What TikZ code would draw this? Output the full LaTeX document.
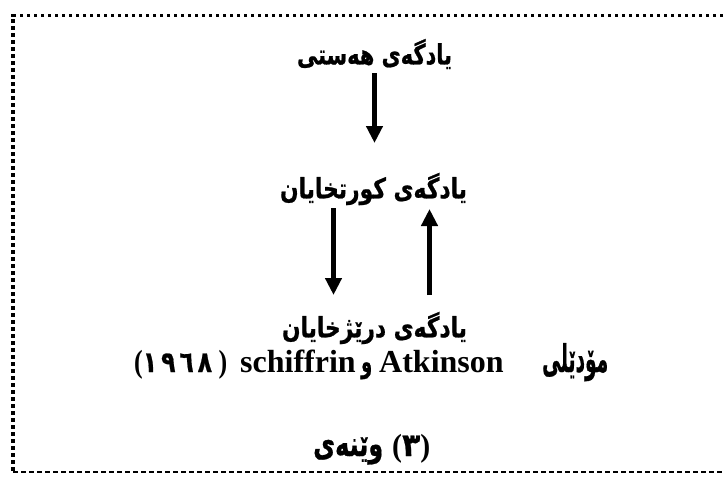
\documentclass[tikz,border=0pt]{standalone}
\usepackage{fontspec}
\usepackage{graphicx}
\TeXXeTstate=1
\setmainfont{Liberation Serif}
\newfontfamily\arfont[Script=Arabic, BoldFeatures={FakeBold=0.8}]{DejaVu Sans}
\newsavebox\fitbox
\newcommand\fitw[2]{\sbox\fitbox{#2}\scalebox{\fpeval{#1/(\the\wd\fitbox)}}[1]{\usebox\fitbox}}
\usetikzlibrary{arrows.meta}
\begin{document}
\begin{tikzpicture}[x=1pt,y=-1pt,
  artext/.style={inner sep=0pt, font=\arfont\bfseries\fontsize{28}{32}\selectfont},
  mixtext/.style={inner sep=0pt, font=\bfseries\fontsize{32}{36}\selectfont},
  arr/.style={line width=4.8pt, -{Triangle[length=17pt,width=16pt]}},
  dotline/.style={line width=3.2pt, dash pattern=on 3.2pt off 3.8pt},
  dashline/.style={line width=1.3pt, dash pattern=on 5pt off 3pt}]
\useasboundingbox (0,0) rectangle (724,479);
\draw[dotline] (723,15.5) -- (13,15.5) -- (13,472);
\draw[dashline] (13,472) -- (723,472);

\node[artext] (hs) at (374.5,54) {\fitw{155pt}{\beginR یادگەی هەستی\endR}};
\node[artext] (kt) at (373.5,189) {\fitw{187pt}{\beginR یادگەی کورتخایان\endR}};
\node[artext] (dr) at (374.5,328) {\fitw{185pt}{\beginR یادگەی درێژخایان\endR}};

\node[mixtext, anchor=base west] (md1) at (134,372) {\fitw{93pt}{({\arfont\fontsize{29}{32}\selectfont ١\,٩\,٦\,٨}\ )}};
\node[mixtext, anchor=base west] (md2) at (240,372) {schiffrin};
\node[mixtext, anchor=base west] (md3) at (361,372) {\fitw{11pt}{\arfont\fontsize{30}{32}\selectfont\beginR و\endR}};
\node[mixtext, anchor=base west] (md4) at (379,372) {Atkinson};
\node[mixtext, anchor=base west] (md5) at (542,372) {\fitw{66pt}{\arfont\fontsize{38}{42}\selectfont\beginR مۆدێلی\endR}};

\node[mixtext, anchor=base west] (wn1) at (313,456) {\fitw{70pt}{\arfont\fontsize{35}{39}\selectfont\beginR وێنەی\endR}};
\node[mixtext, anchor=base west] (wn2) at (392,456) {\fitw{38pt}{({\arfont ٣})}};

\coordinate (a1s) at (374.5,73);
\coordinate (a1e) at (374.5,143);
\coordinate (a2s) at (333.5,208);
\coordinate (a2e) at (333.5,295);
\coordinate (a3s) at (429.5,295);
\coordinate (a3e) at (429.5,209);
\draw[arr] (a1s) -- (a1e);
\draw[arr] (a2s) -- (a2e);
\draw[arr] (a3s) -- (a3e);
\end{tikzpicture}
\end{document}
